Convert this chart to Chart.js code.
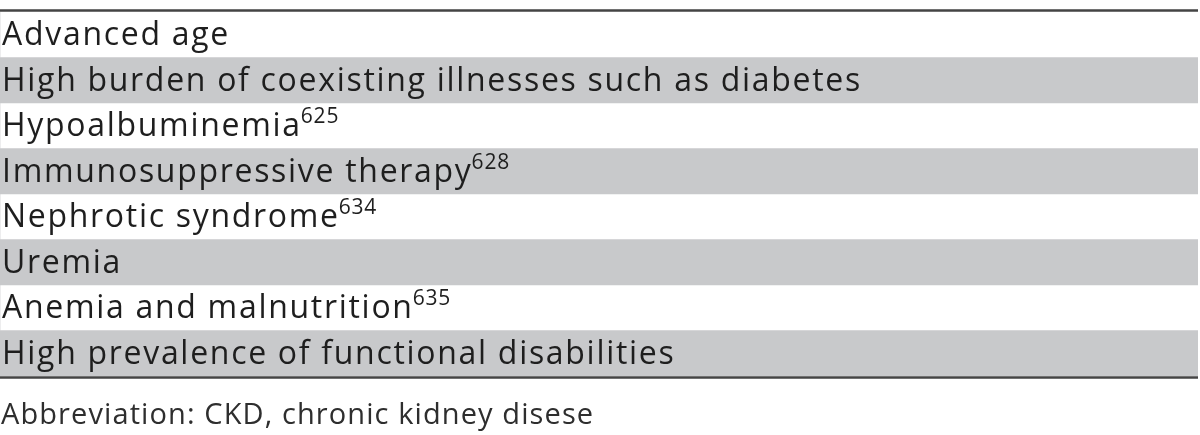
<!DOCTYPE html>
<html>
<head>
<meta charset="utf-8">
<script src="https://cdn.jsdelivr.net/npm/chart.js@4.4.1/dist/chart.umd.min.js"></script>
<style>
  html, body { margin: 0; padding: 0; background: #fff; }
  #wrap { width: 1200px; height: 435px; }
</style>
</head>
<body>
<div id="wrap"><canvas id="riskTable"></canvas></div>
<script>
// table rows
const rowLabels = [
  "Advanced age",
  "High burden of coexisting illnesses such as diabetes",
  "Hypoalbuminemia",
  "Immunosuppressive therapy",
  "Nephrotic syndrome",
  "Uremia",
  "Anemia and malnutrition",
  "High prevalence of functional disabilities"
];
// reference numbers shown as superscripts
const rowRefs = ["", "", "625", "628", "634", "", "635", ""];
// 1 = shaded row, 0 = plain row
const rowShade = [0, 1, 0, 1, 0, 1, 0, 1];
const footnote = "Abbreviation: CKD, chronic kidney disese";

const FONT = "'Open Sans', 'Noto Sans', sans-serif";

// draws the row texts, superscripts, footnote and the top / bottom rules
const tableText = {
  id: "tableText",
  afterDatasetsDraw(chart) {
    const { ctx, chartArea, scales } = chart;
    const y = scales.y;
    const half = (chartArea.bottom - chartArea.top) / rowLabels.length / 2;
    ctx.save();
    ctx.fillStyle = "#1e1e1e";
    ctx.textAlign = "left";
    ctx.textBaseline = "alphabetic";
    rowLabels.forEach((label, i) => {
      const top = y.getPixelForValue(i) - half;
      ctx.font = "500 32px " + FONT;
      ctx.letterSpacing = "1.7px";
      ctx.fillText(label, chartArea.left + 2, top + 33);
      if (rowRefs[i]) {
        const w = ctx.measureText(label).width;
        ctx.font = "21px " + FONT;
        ctx.letterSpacing = "0.8px";
        ctx.fillText(rowRefs[i], chartArea.left + 1 + w, top + 20);
      }
    });
    // footnote under the table
    ctx.fillStyle = "#2e2e2e";
    ctx.font = "29px " + FONT;
    ctx.letterSpacing = "1.1px";
    ctx.fillText(footnote, chartArea.left + 1, chartArea.bottom + 48);
    // rules
    ctx.letterSpacing = "0px";
    ctx.strokeStyle = "#444";
    ctx.lineWidth = 2.5;
    ctx.beginPath();
    ctx.moveTo(chartArea.left, chartArea.top - 1.5);
    ctx.lineTo(chartArea.right, chartArea.top - 1.5);
    ctx.moveTo(chartArea.left, chartArea.bottom + 1.5);
    ctx.lineTo(chartArea.right, chartArea.bottom + 1.5);
    ctx.stroke();
    ctx.restore();
  }
};

new Chart(document.getElementById("riskTable"), {
  type: "bar",
  data: {
    labels: rowLabels,
    datasets: [{
      data: rowShade,
      backgroundColor: "#c8c9cb",
      borderWidth: 0,
      barPercentage: 1,
      categoryPercentage: 1
    }]
  },
  options: {
    indexAxis: "y",
    responsive: true,
    maintainAspectRatio: false,
    animation: false,
    layout: { padding: { top: 12, right: 2, bottom: 59, left: 0 } },
    scales: {
      x: { display: false, min: 0, max: 1 },
      y: { display: false }
    },
    plugins: {
      legend: { display: false },
      tooltip: { enabled: false }
    }
  },
  plugins: [tableText]
});
</script>
</body>
</html>
